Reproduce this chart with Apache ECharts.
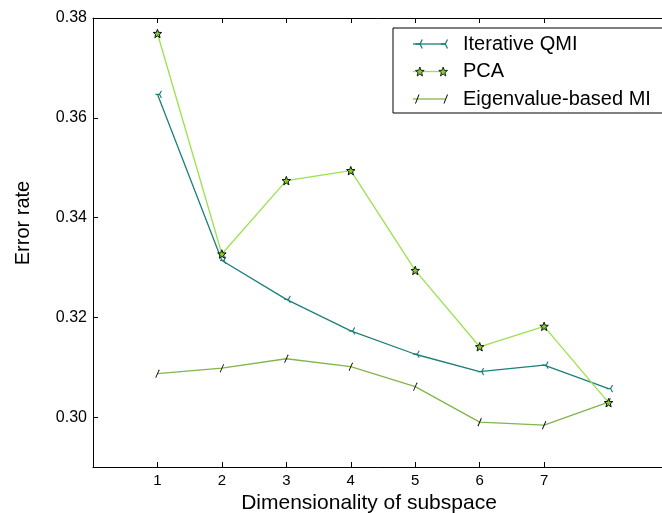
<!doctype html>
<html lang="en">
<head>
<meta charset="UTF-8">
<title>Error rate vs dimensionality of subspace</title>
<style>
    html, body { margin: 0; padding: 0; background: #fff; }
    #main { width: 662px; height: 513px; }
</style>
</head>
<body>
<div id="main"></div>
<script src="https://cdn.jsdelivr.net/npm/echarts@6/dist/echarts.min.js"></script>
<script>
    // values
    var dims = [1, 2, 3, 4, 5, 6, 7, 8];
    var qmi = [0.3647, 0.3314, 0.3236, 0.3173, 0.3126, 0.3091, 0.3104, 0.3057];
    var pca = [0.3769, 0.3327, 0.3474, 0.3494, 0.3294, 0.3141, 0.3182, 0.3029];
    var eig = [0.3087, 0.3098, 0.3117, 0.3101, 0.3061, 0.2990, 0.2984, 0.3030];
    var xTicks = [1, 2, 3, 4, 5, 6, 7];
    var yTicks = [0.30, 0.32, 0.34, 0.36, 0.38];
    var names = ['Iterative QMI', 'PCA', 'Eigenvalue-based MI'];

    var font = '"Liberation Sans", Arial, Helvetica, sans-serif';
    var teal = '#1b7f7b';
    var lightGreen = '#9be24c';
    var olive = '#82b64a';
    var starFill = '#7fd12a';

    function pairs(ys) {
        var out = [];
        for (var i = 0; i < dims.length; i++) {
            out.push([dims[i], ys[i]]);
        }
        return out;
    }

    // 5 point star, centre (cx, cy), outer radius r
    function star(cx, cy, r) {
        var s = '';
        for (var k = 0; k < 10; k++) {
            var rr = k % 2 ? r * 0.42 : r;
            var a = (-90 + k * 36) * Math.PI / 180;
            s += (k ? 'L' : 'M') + (cx + rr * Math.cos(a)).toFixed(2) + ' ' + (cy + rr * Math.sin(a)).toFixed(2);
        }
        return s + 'Z';
    }
    // matplotlib style tri_left: spoke to the left, two arms to the right
    function tri(cx, cy, r) {
        return 'M' + (cx - r) + ' ' + cy + 'L' + cx + ' ' + cy +
            'M' + cx + ' ' + cy + 'L' + (cx + r / 2) + ' ' + (cy - r * 0.866).toFixed(2) +
            'M' + cx + ' ' + cy + 'L' + (cx + r / 2) + ' ' + (cy + r * 0.866).toFixed(2);
    }

    var starSym = 'path://' + star(5, 5, 5);
    var triSym = 'path://' + tri(4, 4, 4);
    var slashSym = 'path://M0 8L3.5 0';

    var legendLine = 'path://M0 0H32V1.3H0Z';
    var legendBase = {
        orient: 'vertical',
        left: 393,
        top: 28,
        padding: [6, 40, 4, 20],
        itemGap: 7.5,
        itemWidth: 32,
        itemHeight: 9,
        selectedMode: false,
        textStyle: { fontFamily: font, fontSize: 20, lineHeight: 20, color: '#000', padding: [0, 0, 0, 13] }
    };

    var myChart = echarts.init(document.getElementById('main'), null, { renderer: 'canvas' });
    var option = {
        backgroundColor: '#fff',
        animation: false,
        grid: { left: 93, right: -11, top: 18, bottom: 46, outerBoundsMode: 'none', containLabel: false },
        legend: [
            echarts.util.extend(echarts.util.clone(legendBase), {
                backgroundColor: '#fff',
                borderColor: '#000',
                borderWidth: 1,
                symbolKeepAspect: true,
                z: 10,
                data: [
                    { name: names[0], icon: legendLine, itemStyle: { color: teal, borderWidth: 0 } },
                    { name: names[1], icon: legendLine, itemStyle: { color: lightGreen, borderWidth: 0 } },
                    { name: names[2], icon: legendLine, itemStyle: { color: olive, borderWidth: 0 } }
                ]
            }),
            echarts.util.extend(echarts.util.clone(legendBase), {
                symbolKeepAspect: false,
                z: 11,
                textStyle: { fontFamily: font, fontSize: 20, lineHeight: 20, color: 'rgba(0,0,0,0)', padding: [0, 0, 0, 13] },
                data: [
                    { name: names[0], icon: 'path://' + tri(4.5, 4.5, 4.5) + tri(29.75, 4.5, 4.5),
                      itemStyle: { color: 'none', borderColor: teal, borderWidth: 1.3 } },
                    { name: names[1], icon: 'path://' + star(4.5, 4.5, 4.5) + star(27.5, 4.5, 4.5),
                      itemStyle: { color: starFill, borderColor: '#111', borderWidth: 0.9 } },
                    { name: names[2], icon: 'path://M0 9L3.5 0M28.5 9L32 0',
                      itemStyle: { color: 'none', borderColor: '#000', borderWidth: 1 } }
                ]
            })
        ],
        xAxis: [{
            type: 'value',
            min: 0,
            max: 9,
            position: 'bottom',
            name: 'Dimensionality of subspace',
            nameLocation: 'middle',
            nameGap: 26,
            nameTextStyle: { fontFamily: font, fontSize: 21, color: '#000', padding: [0, 28, 0, 0] },
            axisLine: { onZero: false, lineStyle: { color: '#000', width: 1 } },
            axisTick: { inside: true, length: 5, customValues: xTicks, lineStyle: { color: '#000' } },
            axisLabel: { customValues: xTicks, margin: 6, fontFamily: font, fontSize: 15, color: '#000' },
            splitLine: { show: false }
        }, {
            type: 'value',
            min: 0,
            max: 9,
            position: 'top',
            axisLine: { onZero: false, lineStyle: { color: '#000', width: 1 } },
            axisTick: { inside: true, length: 5, customValues: xTicks, lineStyle: { color: '#000' } },
            axisLabel: { show: false },
            splitLine: { show: false }
        }],
        yAxis: [{
            type: 'value',
            min: 0.29,
            max: 0.38,
            position: 'left',
            name: 'Error rate',
            nameLocation: 'middle',
            nameGap: 60,
            nameTextStyle: { fontFamily: font, fontSize: 20, color: '#000', padding: [0, 0, 0, 39] },
            axisLine: { onZero: false, lineStyle: { color: '#000', width: 1 } },
            axisTick: { inside: true, length: 5, customValues: yTicks, lineStyle: { color: '#000' } },
            axisLabel: {
                customValues: yTicks, margin: 6, fontFamily: font, fontSize: 16, color: '#000',
                formatter: function (v) { return v.toFixed(2); }
            },
            splitLine: { show: false }
        }],
        series: [{
            name: names[0],
            type: 'line',
            data: pairs(qmi),
            symbol: triSym,
            symbolSize: [6, 7],
            symbolOffset: [1, 0],
            lineStyle: { color: teal, width: 1.3 },
            itemStyle: { color: 'none', borderColor: teal, borderWidth: 1.2 },
            z: 3
        }, {
            name: names[1],
            type: 'line',
            data: pairs(pca),
            symbol: starSym,
            symbolSize: 8.5,
            lineStyle: { color: lightGreen, width: 1.3 },
            itemStyle: { color: starFill, borderColor: '#111', borderWidth: 1 },
            z: 4
        }, {
            name: names[2],
            type: 'line',
            data: pairs(eig),
            symbol: slashSym,
            symbolSize: [3.5, 8],
            lineStyle: { color: olive, width: 1.3 },
            itemStyle: { color: 'none', borderColor: '#000', borderWidth: 1 },
            z: 2
        }]
    };
    myChart.setOption(option);
</script>
</body>
</html>
